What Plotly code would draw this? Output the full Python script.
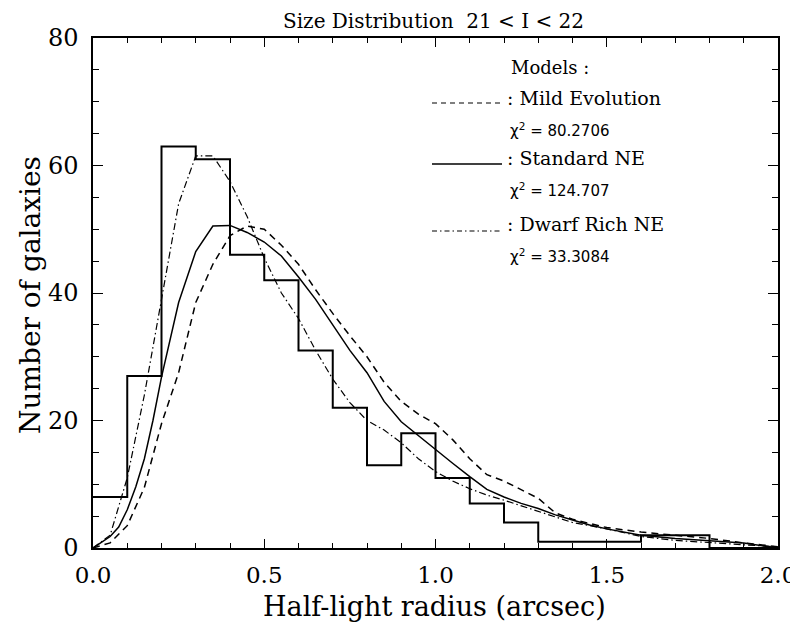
import plotly.graph_objects as go

# Histogram (bin edges and counts)
bin_edges = [round(0.1 * i, 1) for i in range(21)]
counts = [8, 27, 63, 61, 46, 42, 31, 22, 13, 18, 11, 7, 4, 1, 1, 1, 2, 2, 0, 0]

# Standard NE model (solid)
std_x = [0.0, 0.05, 0.075, 0.10, 0.125, 0.15, 0.175, 0.20, 0.25, 0.30, 0.35, 0.40, 0.45, 0.50,
         0.55, 0.60, 0.65, 0.70, 0.75, 0.80, 0.85, 0.90, 0.95, 1.00, 1.05, 1.10, 1.15, 1.20,
         1.25, 1.30, 1.35, 1.40, 1.45, 1.50, 1.60, 1.70, 1.80, 1.90, 2.00]
std_y = [0, 1.8, 3.3, 6, 9.6, 14, 20, 26.8, 38.5, 46.5, 50.5, 50.6, 49.5, 48,
         45.8, 42.5, 39, 35, 31, 27.5, 23, 19.8, 17.6, 15.5, 13.3, 11.2, 9.2, 8,
         7, 6.2, 5.2, 4.4, 3.6, 3, 2, 1.5, 1.2, 0.8, 0]

# Mild Evolution model (dashed)
mild_x = [0.0, 0.05, 0.10, 0.15, 0.20, 0.25, 0.30, 0.35, 0.40, 0.45, 0.50, 0.55, 0.60, 0.65,
          0.70, 0.75, 0.80, 0.85, 0.90, 0.95, 1.00, 1.05, 1.10, 1.15, 1.20, 1.25, 1.30, 1.35,
          1.40, 1.50, 1.60, 1.70, 1.80, 1.90, 2.00]
mild_y = [0, 0.8, 3.5, 9.5, 19.5, 27.5, 38.5, 44.5, 49, 50.5, 50, 47.5, 44.5, 40.5,
          36.8, 33.3, 30, 26, 23, 21, 19.5, 17, 14, 11.5, 10.5, 9.2, 7.8, 5.5,
          4.5, 3.2, 2.5, 2, 1.5, 0.8, 0.2]

# Dwarf Rich NE model (dash-dot)
dwarf_x = [0.0, 0.05, 0.10, 0.15, 0.20, 0.25, 0.30, 0.35, 0.40, 0.45, 0.50, 0.55, 0.60, 0.65,
           0.70, 0.75, 0.80, 0.85, 0.90, 0.95, 1.00, 1.05, 1.10, 1.15, 1.20, 1.30, 1.40, 1.50,
           1.60, 1.70, 1.80, 1.90, 2.00]
dwarf_y = [0, 2, 11, 24, 39, 54, 61.5, 61.5, 57.5, 52, 45.5, 40, 36, 31,
           26.5, 22.8, 20, 18.5, 16.5, 14, 12, 10.5, 9.3, 8.3, 7.5, 5.7, 4, 3,
           1.8, 1.2, 0.8, 0.5, 0.2]

x_ticks = [0.0, 0.5, 1.0, 1.5, 2.0]
x_tick_labels = ["0.0", "0.5", "1.0", "1.5", "2.0"]
y_ticks = [0, 20, 40, 60, 80]
y_tick_labels = ["0", "20", "40", "60", "80"]

SERIF = "DejaVu Serif"

# Plot area in screen pixels (page has an 8px body margin)
PL, PR, PT, PB = 93, 778, 38, 548
OFF = 8
W, H = 798, 625

def px(sx):
    return (sx - PL) / (PR - PL)

def py(sy):
    return (PB - sy) / (PB - PT)

fig = go.Figure()

fig.add_trace(go.Scatter(x=bin_edges, y=counts + [counts[-1]], mode="lines",
                         line=dict(color="black", width=2, shape="hv"),
                         showlegend=False, hoverinfo="skip"))
fig.add_trace(go.Scatter(x=mild_x, y=mild_y, mode="lines",
                         line=dict(color="black", width=1.5, dash="7px,5px"),
                         showlegend=False))
fig.add_trace(go.Scatter(x=std_x, y=std_y, mode="lines",
                         line=dict(color="black", width=1.5),
                         showlegend=False))
fig.add_trace(go.Scatter(x=dwarf_x, y=dwarf_y, mode="lines",
                         line=dict(color="black", width=1.2, dash="7px,3px,1.5px,3px"),
                         showlegend=False))

# Legend drawn as text + line samples
leg_x0, leg_x1 = px(432), px(502)
shapes = [
    dict(type="line", xref="paper", yref="paper", x0=leg_x0, x1=leg_x1, y0=py(103), y1=py(103),
         line=dict(color="black", width=1.2, dash="5px,4px")),
    dict(type="line", xref="paper", yref="paper", x0=leg_x0, x1=leg_x1, y0=py(164), y1=py(164),
         line=dict(color="black", width=1.5)),
    dict(type="line", xref="paper", yref="paper", x0=leg_x0, x1=leg_x1, y0=py(231), y1=py(231),
         line=dict(color="black", width=1.2, dash="5px,3px,1.5px,3px")),
]

annotations = []
def txt(x, y, s, size=19, family=SERIF, anchor="left", angle=0):
    annotations.append(dict(xref="paper", yref="paper", x=px(x), y=py(y), text=s,
                            showarrow=False, xanchor=anchor, yanchor="middle",
                            textangle=angle,
                            font=dict(family=family, size=size, color="black")))

txt(509, 67, "Models :", size=18)
txt(505, 98, ": Mild Evolution")
txt(508, 130, "χ<sup>2</sup> = 80.2706", size=15, family="DejaVu Sans")
txt(505, 158, ": Standard NE")
txt(508, 190, "χ<sup>2</sup> = 124.707", size=15, family="DejaVu Sans")
txt(505, 224, ": Dwarf Rich NE")
txt(508, 256, "χ<sup>2</sup> = 33.3084", size=15, family="DejaVu Sans")

# Title and axis titles
txt(433, 21, "Size Distribution  21 < I < 22", size=20, anchor="center")
txt(434, 606, "Half-light radius (arcsec)", size=27, anchor="center")
txt(30, 295, "Number of galaxies", size=28, anchor="center", angle=-90)

fig.update_layout(
    width=W, height=H,
    margin=dict(l=PL - OFF, r=W + OFF - PR, t=PT - OFF, b=H + OFF - PB, autoexpand=False),
    paper_bgcolor="white", plot_bgcolor="white",
    shapes=shapes, annotations=annotations,
    xaxis=dict(range=[0, 2.0], tickvals=x_ticks, ticktext=x_tick_labels,
               showgrid=False, zeroline=False, showline=True, linecolor="black", linewidth=1.5,
               mirror="ticks", ticks="inside", ticklen=9, tickwidth=1.2, tickcolor="black",
               minor=dict(dtick=0.1, ticks="inside", ticklen=5, tickwidth=1, tickcolor="black"),
               tickfont=dict(family=SERIF, size=23, color="black"),
               ticklabelstandoff=6),
    yaxis=dict(range=[0, 80], tickvals=y_ticks, ticktext=y_tick_labels,
               showgrid=False, zeroline=False, showline=True, linecolor="black", linewidth=1.5,
               mirror="ticks", ticks="inside", ticklen=10, tickwidth=1.2, tickcolor="black",
               minor=dict(dtick=5, ticks="inside", ticklen=6, tickwidth=1, tickcolor="black"),
               tickfont=dict(family=SERIF, size=24, color="black"),
               ticklabelstandoff=8),
)

fig.write_html("out.html")
